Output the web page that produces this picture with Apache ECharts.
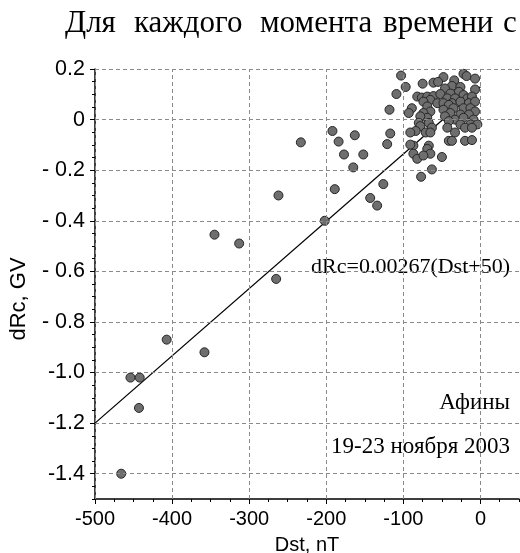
<!DOCTYPE html>
<html>
<head>
<meta charset="utf-8">
<script src="https://cdn.jsdelivr.net/npm/echarts@6/dist/echarts.min.js"></script>
<style>
  html, body { margin: 0; padding: 0; background: #fff; }
  #chart { width: 520px; height: 553px; }
</style>
</head>
<body>
<div id="chart"></div>
<script>
// точки: Dst (nT) и dRc (GV)
const dst = [
    -466, -454, -442, -443, -407, -358, -345, -313, -265, -262, -233, -202,
    -192, -189, -184, -177, -165, -163, -152, -143, -134, -126,
    -103, -22, -18, -48, -34, -7, -61, -55, -75, -97,
    -37, -26, -7, -46, -109, -28, -39, -22,
    -82, -76, -69, -61, -52, -65, -43, -33, -17, -11, -74, -56, -48, -37, -26, -15, -7,
    -69, -65, -41, -35, -48, -22, -13, -7, -89, -93, -74, -39, -26, -15, -118,
    -69, -78, -46, -33, -22, -9, -80, -67, -41, -26, -13, -4,
    -78, -63, -43, -20, -11, -84, -71, -91, -65, -33, -117,
    -41, -37, -20, -11, -87, -67, -91, -121,
    -69, -65, -87, -82, -74, -50,
    -77, -63
];
const dRc = [
    -1.40, -1.02, -1.02, -1.14, -0.87, -0.92, -0.455, -0.49, -0.63, -0.30, -0.09, -0.40,
    -0.045, -0.275, -0.087, -0.138, -0.189, -0.062, -0.138, -0.31, -0.34, -0.255,
    0.174, 0.181, 0.172, 0.168, 0.155, 0.162, 0.146, 0.149, 0.142, 0.129,
    0.133, 0.129, 0.119, 0.123, 0.101, 0.110, 0.103, 0.097,
    0.091, 0.087, 0.091, 0.093, 0.101, 0.078, 0.084, 0.084, 0.084, 0.091, 0.071, 0.065, 0.065, 0.065, 0.071, 0.065, 0.071,
    0.052, 0.032, 0.058, 0.045, 0.039, 0.045, 0.045, 0.032, 0.045, 0.026, 0.026, 0.026, 0.020, 0.020, 0.039,
    0.007, 0.013, 0.013, 0.000, 0.007, 0.000, -0.013, -0.013, -0.006, -0.019, -0.019, -0.019,
    -0.026, -0.032, -0.032, -0.032, -0.032, -0.045, -0.051, -0.051, -0.051, -0.051, -0.055,
    -0.084, -0.084, -0.084, -0.081, -0.103, -0.103, -0.099, -0.097,
    -0.116, -0.135, -0.135, -0.155, -0.142, -0.148,
    -0.226, -0.197
];

// линия регрессии dRc=0.00267(Dst+50), концы
const fitDst = [-500, 0];
const fitDRc = [-1.20, 0.13];

const xTicks = [-500, -400, -300, -200, -100, 0];
const yTicks = [0.2, 0, -0.2, -0.4, -0.6, -0.8, -1.0, -1.2, -1.4];
const yTickText = ['0.2', '0', '- 0.2', '- 0.4', '- 0.6', '- 0.8', '-1.0', '-1.2', '-1.4'];

// заголовок, по словам (в оригинале строка выровнена по ширине)
const titleWords = ['Для', 'каждого', 'момента', 'времени', 'с'];
const titleLeft = [65, 134, 260, 383, 503];

const points = dst.map((d, i) => [d, dRc[i]]);
const fitLine = fitDst.map((d, i) => [d, fitDRc[i]]);

const sans = 'Liberation Sans, Arial, sans-serif';
const serif = 'Liberation Serif, Times New Roman, serif';

function xLabel(v) {
    return xTicks.some(t => Math.abs(t - v) < 1e-6) ? String(v) : '';
}
function yLabel(v) {
    const i = yTicks.findIndex(t => Math.abs(t - v) < 1e-6);
    return i >= 0 ? yTickText[i] : '';
}

const chart = echarts.init(document.getElementById('chart'), null, { renderer: 'canvas' });

const gridStyle = { color: '#8a8a8a', type: [4, 3], width: 1 };

const titleGraphics = titleWords.map((w, i) => ({
    type: 'text', x: titleLeft[i], y: 24,
    style: { text: w, font: '31px ' + serif, fill: '#000', textAlign: 'left', textVerticalAlign: 'middle' }
}));

const option = {
    animation: false,
    backgroundColor: '#fff',
    grid: { left: 95, right: 1, top: 69, bottom: 54, outerBoundsMode: 'none' },
    xAxis: [
        {
            type: 'value', min: -500, max: 50, interval: 25, position: 'bottom',
            axisLine: { onZero: false, lineStyle: { color: '#000', width: 1.5 } },
            axisTick: { customValues: xTicks, length: 5, lineStyle: { color: '#000' } },
            axisLabel: { customValues: xTicks, formatter: xLabel, margin: 10, color: '#000', fontFamily: sans, fontSize: 20 },
            splitLine: { show: false }
        },
        {
            type: 'value', min: -500, max: 50, interval: 25, position: 'bottom',
            axisLine: { show: false, onZero: false },
            axisTick: { length: 3, lineStyle: { color: '#000' } },
            axisLabel: { show: false },
            splitLine: { show: false }
        }
    ],
    yAxis: [
        {
            type: 'value', min: -1.5, max: 0.2, interval: 0.05, position: 'left',
            axisLine: { onZero: false, lineStyle: { color: '#000', width: 1.5 } },
            axisTick: { customValues: yTicks, length: 5, lineStyle: { color: '#000' } },
            axisLabel: { customValues: yTicks, formatter: yLabel, margin: 10, color: '#000', fontFamily: sans, fontSize: 21.5 },
            splitLine: { show: false }
        },
        {
            type: 'value', min: -1.5, max: 0.2, interval: 0.05, position: 'left',
            axisLine: { show: false, onZero: false },
            axisTick: { length: 3, lineStyle: { color: '#000' } },
            axisLabel: { show: false },
            splitLine: { show: false }
        }
    ],
    graphic: titleGraphics.concat([
        { type: 'text', x: 19, y: 299, rotation: Math.PI / 2,
          style: { text: 'dRc, GV', font: '22px ' + sans, fill: '#000', textAlign: 'center', textVerticalAlign: 'middle' } },
        { type: 'text', x: 307, y: 545,
          style: { text: 'Dst, nT', font: '20px ' + sans, fill: '#000', textAlign: 'center', textVerticalAlign: 'middle' } },
        { type: 'text', x: 510, y: 267,
          style: { text: 'dRc=0.00267(Dst+50)', font: '22px ' + serif, fill: '#000', textAlign: 'right', textVerticalAlign: 'middle' } },
        { type: 'text', x: 510, y: 403,
          style: { text: 'Афины', font: '23px ' + serif, fill: '#000', textAlign: 'right', textVerticalAlign: 'middle' } },
        { type: 'text', x: 510, y: 447,
          style: { text: '19-23 ноября 2003', font: '23px ' + serif, fill: '#000', textAlign: 'right', textVerticalAlign: 'middle' } }
    ]),
    series: [
        {
            type: 'line',
            data: fitLine,
            symbol: 'none',
            silent: true,
            z: 2,
            lineStyle: { color: '#000', width: 1.3 },
            markLine: {
                silent: true,
                symbol: 'none',
                label: { show: false },
                lineStyle: gridStyle,
                data: xTicks.map(v => ({ xAxis: v })).concat(yTicks.map(v => ({ yAxis: v })))
            }
        },
        {
            type: 'scatter',
            data: points,
            symbolSize: 9,
            z: 3,
            itemStyle: { color: '#6e6e6e', borderColor: '#262626', borderWidth: 1, opacity: 1 }
        }
    ]
};

chart.setOption(option);
</script>
</body>
</html>
